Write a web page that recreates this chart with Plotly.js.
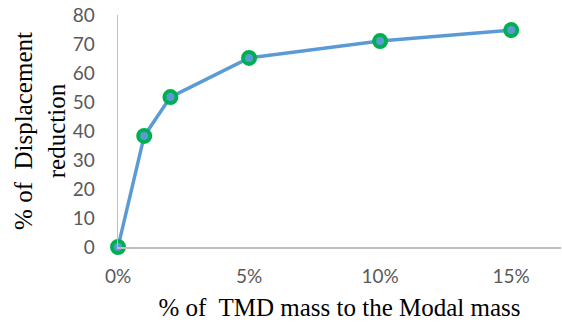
<!DOCTYPE html>
<html>
<head>
<meta charset="utf-8">
<script src="https://cdn.plot.ly/plotly-3.0.1.min.js"></script>
<style>html,body{margin:0;padding:0;background:#fff;}#chart{width:562px;height:324px;}</style>
</head>
<body>
<div id="chart"></div>
<script>
var tmdMassRatio = [0, 0.01, 0.02, 0.05, 0.10, 0.15];
var displacementReduction = [0, 38.3, 51.7, 65.2, 71.0, 74.8];
var xTickVals = [0, 0.05, 0.10, 0.15];
var xTickText = ['0%', '5%', '10%', '15%'];
var yTickVals = [0, 10, 20, 30, 40, 50, 60, 70, 80];

var trace = {
  x: tmdMassRatio,
  y: displacementReduction,
  type: 'scatter',
  mode: 'lines+markers',
  line: {color: '#5B9BD5', width: 3.5},
  marker: {color: '#5B9BD5', size: 12, line: {color: '#00B050', width: 4}},
  cliponaxis: false,
  hoverinfo: 'none'
};

var layout = {
  width: 562, height: 324,
  margin: {l: 118, r: 1, t: 15, b: 77},
  paper_bgcolor: '#fff', plot_bgcolor: '#fff',
  showlegend: false,
  xaxis: {
    range: [0, 0.169],
    tickvals: xTickVals, ticktext: xTickText,
    showgrid: false, zeroline: false,
    showline: true, linecolor: '#BFBFBF', linewidth: 1.5,
    ticks: '', ticklabelstandoff: 12,
    tickfont: {family: 'Lato, Carlito, sans-serif', size: 19, color: '#595959'},
    title: {text: '% of\u00a0 TMD mass to the Modal mass', standoff: 12,
      font: {family: '"Liberation Serif", "Times New Roman", serif', size: 25, color: '#000'}}
  },
  yaxis: {
    range: [0, 80],
    tickvals: yTickVals,
    showgrid: false, zeroline: false,
    showline: true, linecolor: '#BFBFBF', linewidth: 1.5,
    ticks: 'outside', ticklen: 18, tickcolor: 'rgba(0,0,0,0)',
    tickfont: {family: 'Lato, Carlito, sans-serif', size: 19, color: '#595959'},
    title: {text: '% of\u00a0 Displacement<br>reduction', standoff: 0,
      font: {family: '"Liberation Serif", "Times New Roman", serif', size: 25, color: '#000'}}
  }
};

Plotly.newPlot('chart', [trace], layout, {staticPlot: true, displayModeBar: false});
</script>
</body>
</html>
